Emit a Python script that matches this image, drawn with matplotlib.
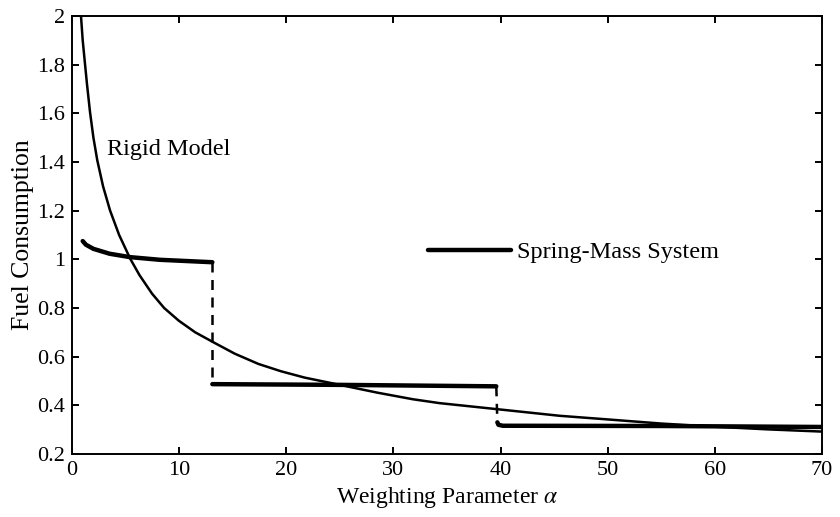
import numpy as np
import matplotlib
matplotlib.use('Agg')
import matplotlib.pyplot as plt

plt.rcParams['font.family'] = ['Liberation Serif', 'DejaVu Serif']
plt.rcParams['mathtext.fontset'] = 'stix'

# rigid model curve
rigid_x = [0.84, 1.0, 1.21, 1.4, 1.68, 2.0, 2.36, 2.9, 3.55, 4.4, 5.44, 6.3, 7.47,
           8.6, 9.96, 11.5, 13.2, 15.2, 17.4, 19.5, 21.7, 25.0, 28.5, 31.8, 34.3,
           39.7, 45.5, 50.0, 55.0, 60.0, 65.0, 70.0]
rigid_y = [2.0, 1.90, 1.805, 1.72, 1.606, 1.50, 1.407, 1.30, 1.201, 1.10, 1.002, 0.935, 0.859,
           0.80, 0.748, 0.70, 0.659, 0.612, 0.570, 0.540, 0.514, 0.484, 0.452, 0.425, 0.409,
           0.384, 0.357, 0.342, 0.325, 0.312, 0.301, 0.292]

# spring-mass system, three branches
seg1_x = [1.0, 1.1, 1.3, 2.0, 3.5, 5.4, 8.2, 13.1]
seg1_y = [1.075, 1.070, 1.060, 1.043, 1.023, 1.009, 0.998, 0.988]
seg2_x = [13.1, 25.0, 39.6]
seg2_y = [0.487, 0.484, 0.478]
seg3_x = [39.7, 39.8, 40.2, 55.0, 70.0]
seg3_y = [0.330, 0.320, 0.316, 0.315, 0.311]

fig = plt.figure(figsize=(8.4, 5.17), dpi=100)
ax = fig.add_axes([0.0857, 0.1219, 0.8929, 0.8472])

ax.plot(rigid_x, rigid_y, color='black', linewidth=1.8)

sm, = ax.plot(seg1_x, seg1_y, color='black', linewidth=3.2, solid_capstyle='round')
ax.plot(seg2_x, seg2_y, color='black', linewidth=3.2, solid_capstyle='round')
ax.plot(seg3_x, seg3_y, color='black', linewidth=3.2, solid_capstyle='round')

# dashed jumps between branches
ax.plot([seg1_x[-1], seg2_x[0]], [seg1_y[-1], seg2_y[0]], color='black',
        linewidth=1.8, linestyle=(0, (4, 3)))
ax.plot([seg2_x[-1], seg3_x[0]], [seg2_y[-1], seg3_y[0]], color='black',
        linewidth=1.8, linestyle=(0, (4, 3)))

ax.text(3.3, 1.45, 'Rigid Model', fontsize=17.5, va='center', ha='left')

ax.legend([sm], ['Spring-Mass System'], loc='center left',
          bbox_to_anchor=(0.475, 0.461), frameon=False, fontsize=17.5,
          handlelength=3.4, handletextpad=0.25, borderpad=0, borderaxespad=0)

ax.set_xlim(0, 70)
ax.set_ylim(0.2, 2)
ax.set_xticks(np.arange(0, 71, 10))
ax.set_yticks([0.2, 0.4, 0.6, 0.8, 1, 1.2, 1.4, 1.6, 1.8, 2])
ax.set_yticklabels(['0.2', '0.4', '0.6', '0.8', '1', '1.2', '1.4', '1.6', '1.8', '2'])
ax.tick_params(direction='in', top=True, right=True, length=5, width=1.4,
               labelsize=16, pad=5)
for s in ax.spines.values():
    s.set_linewidth(1.4)

ax.set_xlabel(r'Weighting Parameter $\alpha$', fontsize=17, labelpad=4)
ax.set_ylabel('Fuel Consumption', fontsize=18.5, labelpad=2)

plt.savefig('out.png', dpi=100)
